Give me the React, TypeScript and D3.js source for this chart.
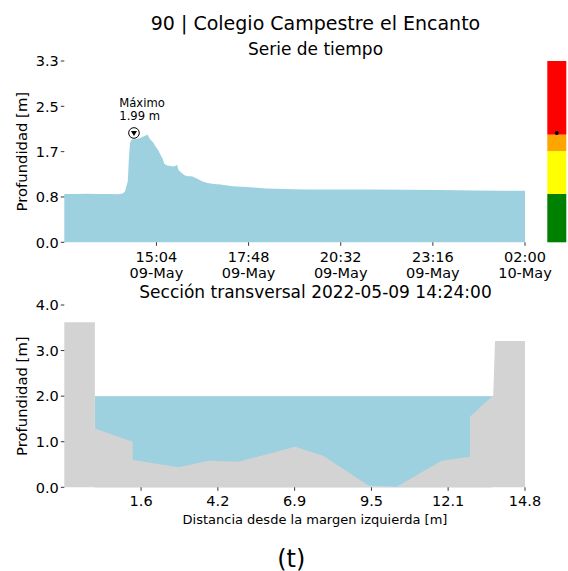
import React from "react";
import * as d3 from "d3";

// ---------- DATA ----------
const stationTitle = "90 | Colegio Campestre el Encanto";
const seriesTitle = "Serie de tiempo";
const sectionTitle = "Sección transversal 2022-05-09 14:24:00";

const seriesTimes = [
  "2022-05-09 12:20", "2022-05-09 12:40", "2022-05-09 13:00", "2022-05-09 13:20",
  "2022-05-09 13:40", "2022-05-09 13:56", "2022-05-09 14:04", "2022-05-09 14:08",
  "2022-05-09 14:13", "2022-05-09 14:15", "2022-05-09 14:17", "2022-05-09 14:20",
  "2022-05-09 14:28", "2022-05-09 14:35", "2022-05-09 14:40", "2022-05-09 14:44",
  "2022-05-09 14:48", "2022-05-09 14:53", "2022-05-09 14:58", "2022-05-09 15:02",
  "2022-05-09 15:07", "2022-05-09 15:11", "2022-05-09 15:15", "2022-05-09 15:18",
  "2022-05-09 15:23", "2022-05-09 15:29", "2022-05-09 15:35", "2022-05-09 15:39",
  "2022-05-09 15:41", "2022-05-09 15:43", "2022-05-09 15:48", "2022-05-09 15:54",
  "2022-05-09 16:00", "2022-05-09 16:07", "2022-05-09 16:12", "2022-05-09 16:16",
  "2022-05-09 16:25", "2022-05-09 16:35", "2022-05-09 16:46", "2022-05-09 16:58",
  "2022-05-09 17:20", "2022-05-09 17:51", "2022-05-09 18:20", "2022-05-09 18:50",
  "2022-05-09 19:30", "2022-05-09 20:00", "2022-05-09 20:40", "2022-05-09 21:30",
  "2022-05-09 22:30", "2022-05-09 23:30", "2022-05-10 00:30", "2022-05-10 01:20",
  "2022-05-10 02:00",
];
const seriesDepth = [
  0.88, 0.88, 0.885, 0.88,
  0.88, 0.875, 0.89, 0.93,
  1.11, 1.53, 1.81, 1.87,
  1.88, 1.90, 1.92, 1.94,
  1.96, 1.87, 1.82, 1.75,
  1.68, 1.60, 1.52, 1.43,
  1.40, 1.39, 1.38, 1.40,
  1.41, 1.32, 1.27, 1.22,
  1.20, 1.20, 1.18, 1.16,
  1.11, 1.08, 1.06, 1.05,
  1.02, 1.00, 0.98, 0.97,
  0.96, 0.96, 0.96, 0.96,
  0.955, 0.95, 0.945, 0.94,
  0.94,
];
const maxTime = "2022-05-09 14:24";
const maxDepth = 1.99;
const maxLabel = ["Máximo", "1.99 m"];

const seriesDomain = ["2022-05-09 12:20", "2022-05-10 02:00"];
const seriesTickTimes = [
  "2022-05-09 15:04", "2022-05-09 17:48", "2022-05-09 20:32",
  "2022-05-09 23:16", "2022-05-10 02:00",
];
const seriesYMax = 3.3;
const seriesYTicks = [0, 0.825, 1.65, 2.475, 3.3];
const seriesYTickLabels = ["0.0", "0.8", "1.7", "2.5", "3.3"];

// alert levels (colour bar)
const levelBounds = [0, 0.88, 1.66, 1.96, 3.3];
const levelColors = ["#008000", "#ffff00", "#ffa500", "#ff0000"];

// cross section
const sectionX = [-1.05, 0, 0, 1.3, 1.3, 2.88, 3.91, 4.93, 6.87, 7.84, 9.39, 10.36, 11.91, 12.88, 12.88, 13.68, 13.74, 14.77];
const sectionGround = [3.62, 3.62, 1.29, 1.0, 0.6, 0.44, 0.58, 0.56, 0.89, 0.69, 0.04, 0.01, 0.58, 0.67, 1.55, 2.02, 3.21, 3.21];
const waterLevel = 2.0;
const waterStart = 0;
const waterEnd = 13.646;
const sectionXDomain = [-1.05, 14.77];
const sectionXTicks = [1.587, 4.223, 6.86, 9.497, 12.13, 14.77];
const sectionYTicks = [0, 1, 2, 3, 4];
const sectionYMax = 4.0;

const panelLabel = "(t)";

// ---------- STYLE ----------
const FONT = "DejaVu Sans, sans-serif";
const WATER = "#9ed1e0";
const GROUND = "#d3d3d3";

export default function App() {
  const parse = d3.timeParse("%Y-%m-%d %H:%M");
  const left = 64.3, right = 525;

  // top panel
  const xt = d3.scaleTime().domain(seriesDomain.map((s) => parse(s)!)).range([left, right]);
  const yt = d3.scaleLinear().domain([0, seriesYMax]).range([242.3, 61]);
  const series = seriesTimes.map((t, i) => ({ t: parse(t)!, v: seriesDepth[i] }));
  const areaTop = d3.area<{ t: Date; v: number }>()
    .x((d) => xt(d.t)).y0(yt(0)).y1((d) => yt(d.v));
  const fmtH = d3.timeFormat("%H:%M");
  const fmtD = d3.timeFormat("%d-%b");
  const mx = xt(parse(maxTime)!);
  const my = yt(maxDepth);

  // bottom panel
  const xb = d3.scaleLinear().domain(sectionXDomain).range([left, right]);
  const yb = d3.scaleLinear().domain([0, sectionYMax]).range([487.3, 305]);
  const ground = sectionX.map((x, i) => ({ x, g: sectionGround[i] }));
  const areaGround = d3.area<{ x: number; g: number }>()
    .x((d) => xb(d.x)).y0(yb(0)).y1((d) => yb(d.g));

  const cbX0 = 547.3, cbX1 = 566.3;

  return (
    <svg width={568} height={571} style={{ position: "absolute", left: 0, top: 0, fontFamily: FONT }}>
      <rect x={0} y={0} width={568} height={571} fill="white" />
      {/* titles */}
      <text x={315.5} y={30} fontSize={19} textAnchor="middle">{stationTitle}</text>
      <text x={315.5} y={55} fontSize={17} textAnchor="middle">{seriesTitle}</text>

      {/* top series */}
      <path d={areaTop(series)!} fill={WATER} />
      {seriesYTicks.map((v, i) => (
        <g key={"yt" + i}>
          <line x1={left - 3.5} x2={left} y1={yt(v)} y2={yt(v)} stroke="black" strokeWidth={0.8} />
          <text x={left - 5.5} y={yt(v)} dy="0.36em" fontSize={14.5} textAnchor="end">{seriesYTickLabels[i]}</text>
        </g>
      ))}
      {seriesTickTimes.map((s, i) => {
        const d = parse(s)!;
        const x = xt(d);
        return (
          <g key={"xt" + i}>
            <line x1={x} x2={x} y1={yt(0)} y2={yt(0) + 3.5} stroke="black" strokeWidth={0.8} />
            <text x={x} y={262} fontSize={14.5} textAnchor="middle">{fmtH(d)}</text>
            <text x={x} y={277.5} fontSize={14.5} textAnchor="middle">{fmtD(d)}</text>
          </g>
        );
      })}
      <text transform={`translate(22,${(yt(0) + yt(seriesYMax)) / 2}) rotate(-90)`} dy="0.35em" fontSize={14.8} textAnchor="middle">Profundidad [m]</text>

      {/* max marker */}
      <circle cx={mx} cy={my} r={5.3} fill="white" stroke="black" strokeWidth={1} />
      <path d={`M${mx - 3},${my - 2} L${mx + 3},${my - 2} L${mx},${my + 3} Z`} fill="black" />
      <text x={mx - 14.7} y={my - 26} fontSize={11.6}>{maxLabel[0]}</text>
      <text x={mx - 14.7} y={my - 13.3} fontSize={11.6}>{maxLabel[1]}</text>

      {/* colour bar */}
      {levelColors.map((c, i) => (
        <rect key={"cb" + i} x={cbX0} width={cbX1 - cbX0}
          y={yt(levelBounds[i + 1])} height={yt(levelBounds[i]) - yt(levelBounds[i + 1])} fill={c} />
      ))}
      <circle cx={(cbX0 + cbX1) / 2} cy={my} r={2} fill="black" />

      {/* cross section */}
      <text x={315.5} y={298} fontSize={17} textAnchor="middle">{sectionTitle}</text>
      <rect x={xb(waterStart)} width={xb(waterEnd) - xb(waterStart)} y={yb(waterLevel)} height={yb(0) - yb(waterLevel)} fill={WATER} />
      <path d={areaGround(ground)!} fill={GROUND} />
      {sectionYTicks.map((v, i) => (
        <g key={"yb" + i}>
          <line x1={left - 3.5} x2={left} y1={yb(v)} y2={yb(v)} stroke="black" strokeWidth={0.8} />
          <text x={left - 5.5} y={yb(v)} dy="0.36em" fontSize={14.5} textAnchor="end">{v.toFixed(1)}</text>
        </g>
      ))}
      {sectionXTicks.map((v, i) => (
        <g key={"xb" + i}>
          <line x1={xb(v)} x2={xb(v)} y1={yb(0)} y2={yb(0) + 3.5} stroke="black" strokeWidth={0.8} />
          <text x={xb(v)} y={506} fontSize={14.5} textAnchor="middle">{v.toFixed(1)}</text>
        </g>
      ))}
      <text x={315} y={523.5} fontSize={13} textAnchor="middle">Distancia desde la margen izquierda [m]</text>
      <text transform={`translate(22,${(yb(0) + yb(sectionYMax)) / 2}) rotate(-90)`} dy="0.35em" fontSize={14.8} textAnchor="middle">Profundidad [m]</text>

      <text x={291.2} y={566.5} fontSize={24} textAnchor="middle">{panelLabel}</text>
    </svg>
  );
}
